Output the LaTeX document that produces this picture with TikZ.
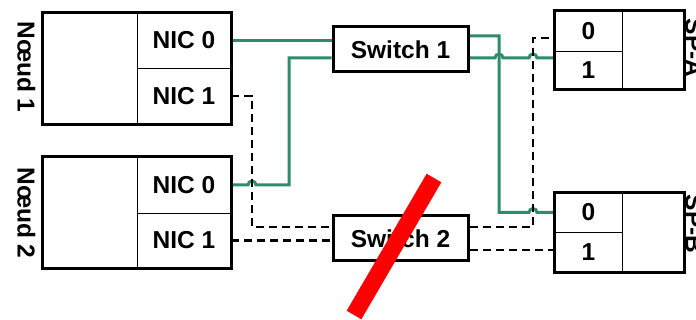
\documentclass[tikz,border=0pt]{standalone}
\usepackage{fontspec}
\setmainfont{Liberation Sans}
\usetikzlibrary{fit,backgrounds}
\definecolor{wiregreen}{RGB}{45,140,105}
\tikzset{
  lbl/.style={font=\fontsize{24.5}{26}\selectfont\bfseries},
  cell/.style={lbl, draw=black, line width=0.8pt, inner sep=0pt},
  frame/.style={draw=black, line width=3pt, inner sep=0pt},
  swbox/.style={lbl, draw=black, line width=3pt, inner sep=0pt, minimum width=135pt, minimum height=45pt},
  greenwire/.style={draw=wiregreen, line width=3pt},
  dashwire/.style={draw=black, line width=2.8pt, dash pattern=on 8pt off 5pt},
  vlabel/.style={lbl, rotate=-90, inner sep=0pt}
}
\begin{document}
\begin{tikzpicture}[x=1pt,y=1pt]
\useasboundingbox (0,0) rectangle (696,-320);

% Noeud 1
\node[cell, minimum width=94pt, minimum height=111pt] (n1body) at (90,-68.5) {};
\node[cell, minimum width=94pt, minimum height=55pt] (n1nic0) at (184,-40.5) {NIC 0};
\node[cell, minimum width=94pt, minimum height=56pt] (n1nic1) at (184,-96) {NIC 1};
\node[frame, fit=(n1body)(n1nic0)(n1nic1)] (node1) {};
\node[vlabel] (lab1) at (26.5,-67) {Nœud 1};

% Noeud 2
\node[cell, minimum width=94pt, minimum height=111pt] (n2body) at (90,-212.5) {};
\node[cell, minimum width=94pt, minimum height=56pt] (n2nic0) at (184,-185) {NIC 0};
\node[cell, minimum width=94pt, minimum height=55pt] (n2nic1) at (184,-240.5) {NIC 1};
\node[frame, fit=(n2body)(n2nic0)(n2nic1)] (node2) {};
\node[vlabel] (lab2) at (26.5,-213) {Nœud 2};

% Switches
\node[swbox] (sw1) at (400.5,-49.5) {Switch 1};
\node[swbox] (sw2) at (400.5,-238.5) {Switch 2};

% SP-A
\node[cell, minimum width=67pt, minimum height=40pt] (spa0) at (588.5,-31) {0};
\node[cell, minimum width=67pt, minimum height=38pt] (spa1) at (588.5,-70) {1};
\node[cell, minimum width=62pt, minimum height=78pt] (spabody) at (653,-50) {};
\node[frame, fit=(spa0)(spa1)(spabody)] (spa) {};
\node[vlabel] (labA) at (694,-48) {SP-A};

% SP-B
\node[cell, minimum width=67pt, minimum height=39pt] (spb0) at (588.5,-212.5) {0};
\node[cell, minimum width=67pt, minimum height=40pt] (spb1) at (588.5,-252) {1};
\node[cell, minimum width=62pt, minimum height=79pt] (spbbody) at (653,-232.5) {};
\node[frame, fit=(spb0)(spb1)(spbbody)] (spb) {};
\node[vlabel] (labB) at (694,-224) {SP-B};

\begin{scope}[on background layer]
% green wires
\draw[greenwire] (n1nic0.east) -- (n1nic0.east -| sw1.west);
\draw[greenwire] (n2nic0.east) -- (248,-185) arc[start angle=180,end angle=0,radius=4pt]
  -- (289,-185) -- (289,-58) -- ([yshift=-8.5pt]sw1.west);
\draw[greenwire] ([yshift=13.5pt]sw1.east) -- (499,-36) -- (499,-212.5)
  -- (529,-212.5) arc[start angle=180,end angle=0,radius=4pt] -- (spb0.west);
\draw[greenwire] ([yshift=-8.5pt]sw1.east) -- (495,-58) arc[start angle=180,end angle=0,radius=4pt]
  -- (529,-58) arc[start angle=180,end angle=0,radius=4pt] -- ([yshift=-8.5pt]sw1.east -| spa1.west);
% dashed wires
\draw[dashwire] (n1nic1.east) -- (252,-96) -- (252,-227) -- ([yshift=11.5pt]sw2.west);
\draw[dashwire] (n2nic1.east) -- (n2nic1.east -| sw2.west);
\draw[dashwire] ([yshift=11.5pt]sw2.east) -- (533,-227) -- (533,-38) -- ([yshift=-7pt]spa0.west);
\draw[dashwire] ([yshift=-11.5pt]sw2.east) -- ([yshift=-11.5pt]sw2.east -| spb1.west);
\end{scope}

% red cross-out bar
\draw[red, line width=17pt] (434,-178) -- (354,-315);
\end{tikzpicture}
\end{document}
